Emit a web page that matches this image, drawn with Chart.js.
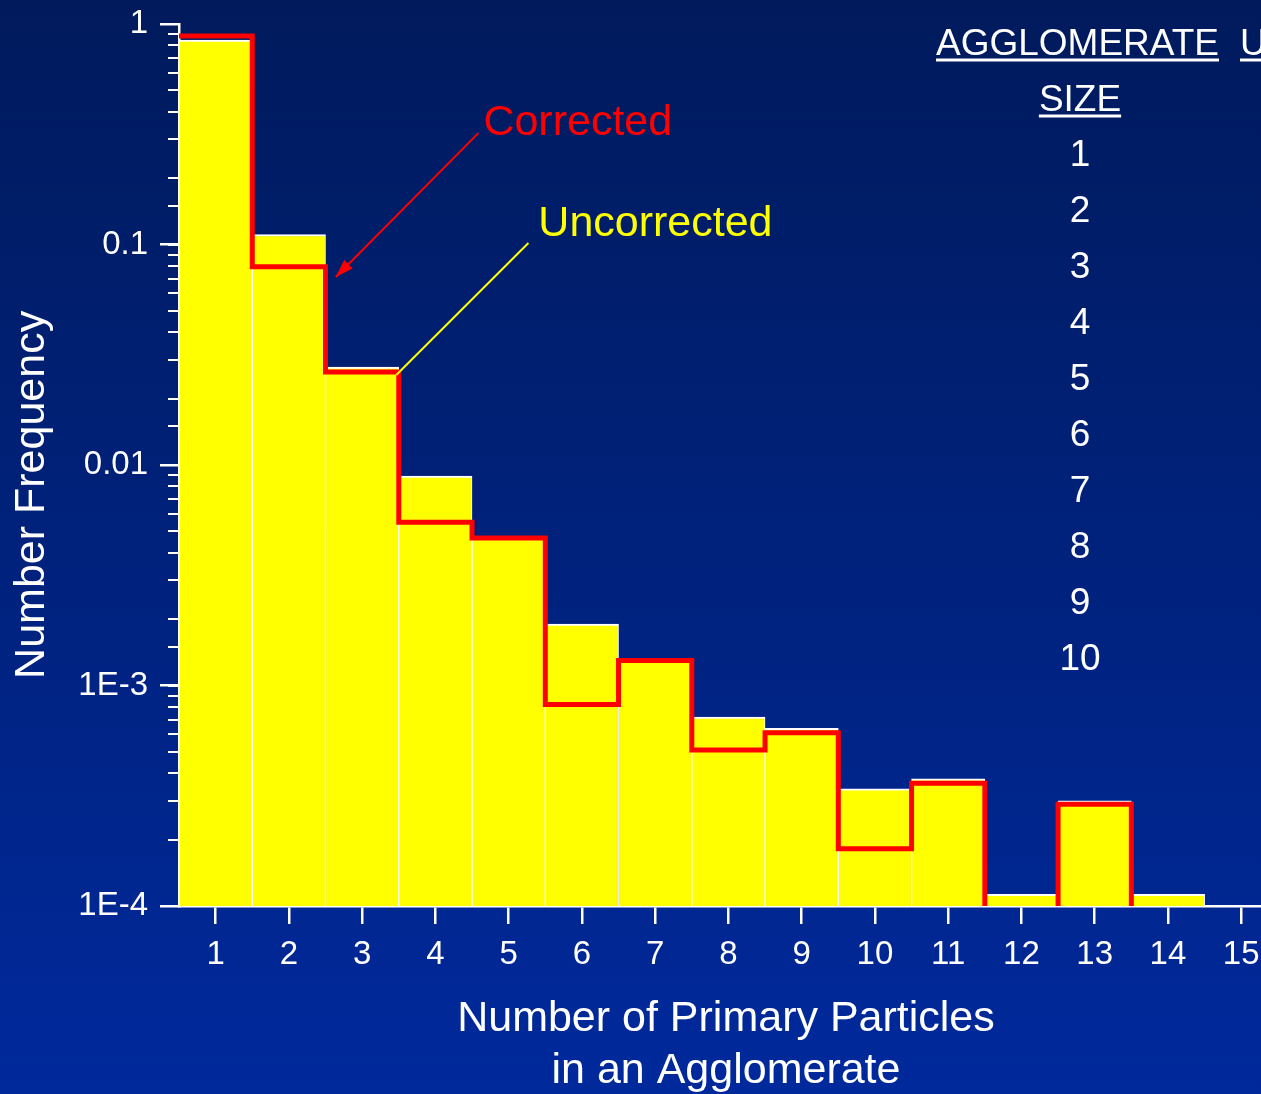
<!DOCTYPE html>
<html>
<head>
<meta charset="utf-8">
<title>Agglomerate size distribution</title>
<script src="https://cdn.jsdelivr.net/npm/chart.js@4"></script>
<style>
  html, body { margin: 0; padding: 0; background: #001a5e; overflow: hidden; }
  canvas { display: block; }
</style>
</head>
<body>
<canvas id="freq-chart" width="1261" height="1094"></canvas>
<script>
// number of primary particles per agglomerate
var categories = [1, 2, 3, 4, 5, 6, 7, 8, 9, 10, 11, 12, 13, 14, 15];
// number frequency, measured
var uncorrected = [0.846, 0.111, 0.0278, 0.0089, 0.00467, 0.0019, 0.0013, 0.00072, 0.00064, 0.00034, 0.000377, 0.000113, 0.0003, 0.000113, 0];
// number frequency after correction
var corrected = [0.882, 0.0793, 0.0264, 0.0055, 0.00467, 0.00082, 0.0013, 0.00051, 0.00061, 0.000182, 0.00036, 0, 0.000289, 0, 0];
var yTickValues = [1e-4, 1e-3, 0.01, 0.1, 1];
var yTickLabels = ['1E-4', '1E-3', '0.01', '0.1', '1'];
var tableHeader = ['AGGLOMERATE', 'SIZE'];
var tableNextColumn = 'UNCORRECTED';
var tableSizes = [1, 2, 3, 4, 5, 6, 7, 8, 9, 10];

var FONT = '"Liberation Sans", Arial, Helvetica, sans-serif';
var Y_MIN = 1e-4, Y_MAX = 1;
var FLOOR = 5e-5; // empty bins drop below the axis and get clipped

// corrected histogram as a step outline
var steps = [];
categories.forEach(function (c, i) {
    var v = corrected[i] > 0 ? corrected[i] : FLOOR;
    steps.push({x: c - 0.5, y: v}, {x: c + 0.5, y: v});
});

var bars = categories.map(function (c, i) {
    return {x: c, y: uncorrected[i] > 0 ? uncorrected[i] : null};
});

var background = {
    id: 'background',
    beforeDraw: function (chart) {
        var ctx = chart.ctx;
        var g = ctx.createLinearGradient(0, 0, 0, chart.height);
        g.addColorStop(0, '#001a5c');
        g.addColorStop(1, '#00299c');
        ctx.save();
        ctx.fillStyle = g;
        ctx.fillRect(0, 0, chart.width, chart.height);
        ctx.restore();
    }
};

// labels with pointer lines, and the size table on the right
var notes = {
    id: 'notes',
    afterDraw: function (chart) {
        var ctx = chart.ctx;
        var xs = chart.scales.x, ys = chart.scales.y;
        function px(x, y) { return [xs.getPixelForValue(x), ys.getPixelForValue(y)]; }
        ctx.save();

        // "Corrected" with arrow
        var t = px(4.655, 0.314);
        ctx.font = '43px ' + FONT;
        ctx.fillStyle = '#ff0000';
        ctx.textBaseline = 'alphabetic';
        ctx.fillText('Corrected', t[0], t[1]);
        var a = px(4.586, 0.32), b = px(2.64, 0.0712);
        ctx.strokeStyle = '#ff0000';
        ctx.lineWidth = 2;
        ctx.beginPath();
        ctx.moveTo(a[0], a[1]);
        ctx.lineTo(b[0], b[1]);
        ctx.stroke();
        var ang = Math.atan2(b[1] - a[1], b[0] - a[0]);
        var len = 18, half = 6;
        ctx.beginPath();
        ctx.moveTo(b[0], b[1]);
        ctx.lineTo(b[0] - len * Math.cos(ang) + half * Math.sin(ang), b[1] - len * Math.sin(ang) - half * Math.cos(ang));
        ctx.lineTo(b[0] - len * Math.cos(ang) - half * Math.sin(ang), b[1] - len * Math.sin(ang) + half * Math.cos(ang));
        ctx.closePath();
        ctx.fillStyle = '#ff0000';
        ctx.fill();

        // "Uncorrected" with plain pointer
        t = px(5.405, 0.109);
        ctx.fillStyle = '#ffff00';
        ctx.fillText('Uncorrected', t[0], t[1]);
        a = px(5.27, 0.1016); b = px(3.466, 0.0256);
        ctx.strokeStyle = '#ffff00';
        ctx.beginPath();
        ctx.moveTo(a[0], a[1]);
        ctx.lineTo(b[0], b[1]);
        ctx.stroke();

        // size table
        ctx.font = '37px ' + FONT;
        ctx.fillStyle = '#ffffff';
        ctx.strokeStyle = '#ffffff';
        ctx.lineWidth = 3;
        ctx.textAlign = 'left';
        var w = ctx.measureText(tableHeader[0]).width;
        ctx.fillText(tableHeader[0], 936, 55);
        ctx.beginPath(); ctx.moveTo(936, 60); ctx.lineTo(936 + w, 60); ctx.stroke();
        var w2 = ctx.measureText(tableNextColumn).width;
        ctx.fillText(tableNextColumn, 1240, 55);
        ctx.beginPath(); ctx.moveTo(1240, 60); ctx.lineTo(1240 + w2, 60); ctx.stroke();
        ctx.textAlign = 'center';
        var cx = 1080;
        var ws = ctx.measureText(tableHeader[1]).width;
        ctx.fillText(tableHeader[1], cx, 111);
        ctx.beginPath(); ctx.moveTo(cx - ws / 2, 116); ctx.lineTo(cx + ws / 2, 116); ctx.stroke();
        tableSizes.forEach(function (s, i) {
            ctx.fillText(String(s), cx, 166 + i * 56);
        });
        ctx.restore();
    }
};

new Chart(document.getElementById('freq-chart'), {
    type: 'bar',
    data: {
        datasets: [
            {
                type: 'line',
                label: 'Corrected',
                data: steps,
                borderColor: '#ff0000',
                borderWidth: 5,
                pointRadius: 0,
                fill: false,
                tension: 0,
                borderJoinStyle: 'miter',
                clip: 0,
                order: 1
            },
            {
                label: 'Uncorrected',
                data: bars,
                backgroundColor: '#ffff00',
                borderColor: '#ffffff',
                borderWidth: {top: 2, left: 1, right: 1, bottom: 0},
                borderSkipped: false,
                barPercentage: 1,
                categoryPercentage: 1,
                order: 2
            }
        ]
    },
    options: {
        responsive: false,
        animation: false,
        devicePixelRatio: 1,
        layout: { padding: {top: 24, left: 0, right: 0, bottom: 0} },
        plugins: {
            legend: { display: false },
            tooltip: { enabled: false }
        },
        scales: {
            x: {
                type: 'linear',
                min: 0.5,
                max: 15.27,
                offset: false,
                position: 'bottom',
                z: 1,
                border: { color: '#ffffff', width: 2.5 },
                grid: { offset: false, drawOnChartArea: false, color: '#ffffff', lineWidth: 2.5, tickLength: 18 },
                ticks: {
                    color: '#ffffff',
                    font: { family: FONT, size: 33 },
                    padding: 11,
                    maxRotation: 0,
                    autoSkip: false,
                    callback: function (v) { return String(v); }
                },
                afterBuildTicks: function (s) {
                    s.ticks = categories.map(function (c) { return {value: c}; });
                },
                afterFit: function (s) {
                    s.height = 188;
                    s.paddingLeft = 0;
                    s.paddingRight = 0;
                },
                title: {
                    display: true,
                    text: [' Number of Primary Particles', ' in an Agglomerate'],
                    color: '#ffffff',
                    font: { family: FONT, size: 43, lineHeight: 1.2 },
                    padding: { top: 0, bottom: -3 }
                }
            },
            y: {
                type: 'logarithmic',
                min: Y_MIN,
                max: Y_MAX,
                position: 'left',
                weight: 1,
                z: 1,
                border: { color: '#ffffff', width: 2.5 },
                grid: { drawOnChartArea: false, color: '#ffffff', lineWidth: 2.5, tickLength: 19 },
                ticks: {
                    color: '#ffffff',
                    font: { family: FONT, size: 33 },
                    padding: 12,
                    autoSkip: false,
                    callback: function (v) {
                        var i = yTickValues.indexOf(v);
                        return i >= 0 ? yTickLabels[i] : '';
                    }
                },
                afterBuildTicks: function (s) {
                    s.ticks = yTickValues.map(function (v) { return {value: v}; });
                },
                afterFit: function (s) {
                    s.width = 179;
                    s.paddingTop = 0;
                    s.paddingBottom = 0;
                },
                title: {
                    display: true,
                    text: 'Number Frequency     ',
                    color: '#ffffff',
                    font: { family: FONT, size: 43, lineHeight: 1.2 },
                    padding: { top: 6, bottom: 0 }
                }
            },
            yMinor: {
                type: 'logarithmic',
                min: Y_MIN,
                max: Y_MAX,
                position: 'left',
                weight: 0,
                z: 1,
                border: { display: false },
                grid: { drawOnChartArea: false, color: '#ffffff', lineWidth: 2, tickLength: 11 },
                ticks: { display: false },
                afterFit: function (s) {
                    s.width = 0;
                    s.paddingTop = 0;
                    s.paddingBottom = 0;
                }
            }
        }
    },
    plugins: [background, notes]
});
</script>
</body>
</html>
